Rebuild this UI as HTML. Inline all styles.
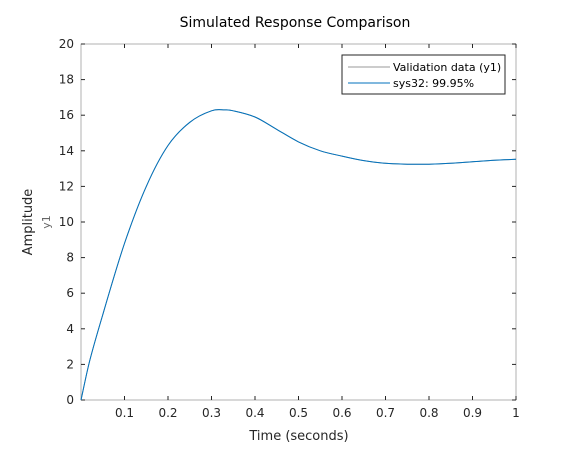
<!DOCTYPE html>
<html><head><meta charset="utf-8"><style>
body{margin:0;background:#fff;font-family:"DejaVu Sans","Liberation Sans",sans-serif;}
svg text{font-family:"DejaVu Sans","Liberation Sans",sans-serif;}
</style></head><body>
<svg width="570" height="450" xmlns="http://www.w3.org/2000/svg">
<rect width="570" height="450" fill="#fff"/>
<text x="295" y="27" font-size="14" text-anchor="middle" fill="#000">Simulated Response Comparison</text>
<g id="axes"></g>
<text x="299" y="440" font-size="13" text-anchor="middle" fill="#262626">Time (seconds)</text>
<text transform="translate(32,222) rotate(-90)" font-size="13" text-anchor="middle" fill="#262626">Amplitude</text>
<text transform="translate(50,222) rotate(-90)" font-size="11" text-anchor="middle" fill="#666">y1</text>
<g>
<rect x="342" y="55" width="163" height="39" fill="#fff" stroke="#262626" stroke-width="1"/>
<line x1="348" y1="67" x2="390" y2="67" stroke="#999" stroke-width="1"/>
<text x="393" y="71" font-size="11" fill="#000">Validation data (y1)</text>
<line x1="348" y1="83" x2="390" y2="83" stroke="#0072bd" stroke-width="1"/>
<text x="393" y="87" font-size="11" fill="#000">sys32: 99.95%</text>
</g>
</svg>
<script>
const times=[0,0.02,0.05,0.1,0.15,0.2,0.25,0.3,0.33,0.35,0.4,0.45,0.5,0.55,0.6,0.65,0.7,0.75,0.8,0.85,0.9,0.95,1.0];
const validation=[0,2.2,4.8,8.8,12.0,14.3,15.6,16.25,16.3,16.25,15.9,15.2,14.5,14.0,13.7,13.45,13.3,13.25,13.25,13.3,13.38,13.47,13.52];
const sys32=[0,2.2,4.8,8.8,12.0,14.3,15.6,16.25,16.3,16.25,15.9,15.2,14.5,14.0,13.7,13.45,13.3,13.25,13.25,13.3,13.38,13.47,13.52];
const xTicks=[0.1,0.2,0.3,0.4,0.5,0.6,0.7,0.8,0.9,1];
const yTicks=[0,2,4,6,8,10,12,14,16,18,20];
const L=81,R=516,T=44,B=400;
const sx=v=>L+(R-L)*v, sy=v=>B-(B-T)*v/20;
const NS="http://www.w3.org/2000/svg";
const g=document.getElementById('axes');
function mk(t,a){const e=document.createElementNS(NS,t);for(const k in a)e.setAttribute(k,a[k]);g.appendChild(e);return e;}
const box=mk('rect',{x:L,y:T,width:R-L,height:B-T,fill:'none',stroke:'#262626','stroke-width':0.6,'stroke-opacity':0.6});


xTicks.forEach(v=>{const x=sx(v);
mk('line',{x1:x,y1:B,x2:x,y2:B-4,stroke:'#262626'});mk('line',{x1:x,y1:T,x2:x,y2:T+4,stroke:'#262626'});
const t=mk('text',{x:x,y:B+17,'font-size':12,'text-anchor':'middle',fill:'#262626'});t.textContent=v;

});
yTicks.forEach(v=>{const y=sy(v);
mk('line',{x1:L,y1:y,x2:L+4,y2:y,stroke:'#262626'});mk('line',{x1:R,y1:y,x2:R-4,y2:y,stroke:'#262626'});
const t=mk('text',{x:L-7,y:y+4,'font-size':12,'text-anchor':'end',fill:'#262626'});t.textContent=v;

});
function line(vals,color,name){
const P=times.map((t,i)=>[sx(t),sy(vals[i])]);
let d='M'+P[0][0].toFixed(1)+','+P[0][1].toFixed(1);
for(let i=0;i<P.length-1;i++){
const p0=P[Math.max(0,i-1)],p1=P[i],p2=P[i+1],p3=P[Math.min(P.length-1,i+2)];
const c1=[p1[0]+(p2[0]-p0[0])/6,p1[1]+(p2[1]-p0[1])/6];
const c2=[p2[0]-(p3[0]-p1[0])/6,p2[1]-(p3[1]-p1[1])/6];
d+=' C'+c1.map(v=>v.toFixed(1)).join(',')+' '+c2.map(v=>v.toFixed(1)).join(',')+' '+p2.map(v=>v.toFixed(1)).join(',');}
const p=mk('path',{d:d,fill:'none',stroke:color,'stroke-width':1,'stroke-linejoin':'round'});

}
line(validation,'#999','validation-line');
line(sys32,'#0072bd','sys32-line');
</script>
</body></html>
